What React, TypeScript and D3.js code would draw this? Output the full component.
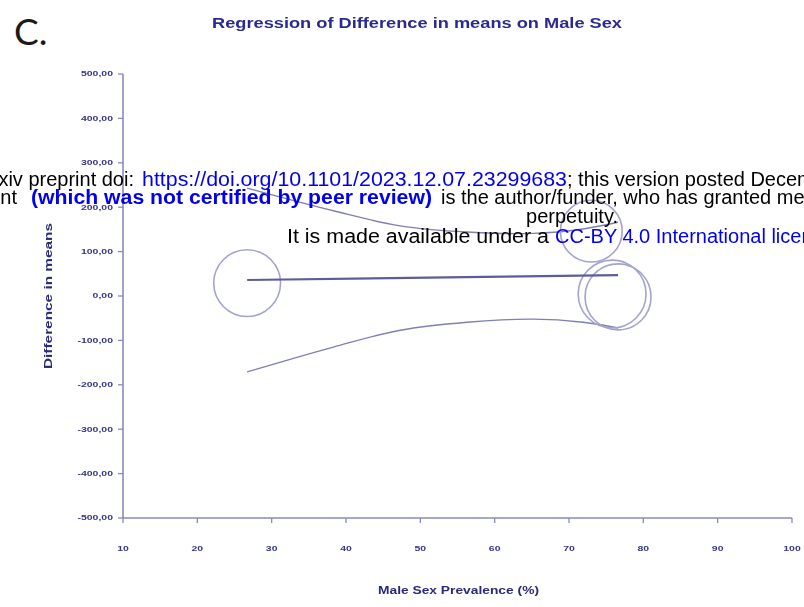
import React from 'react';
import * as d3 from 'd3';

// studies (bubbles): male sex prevalence (%), difference in means, weight (%)
const studyX = [26.7, 73.0, 75.8, 76.6];
const studyY = [29, 146, 4.5, -2];
const studyWeight = [25.6, 21.9, 26.4, 25.0];

// fitted regression line end points
const fitX = [26.7, 76.6];
const fitY = [36, 47];

// confidence band
const bandX = [26.7, 38.3, 47.3, 56.3, 65.2, 71.9, 76.6];
const bandLower = [-171, -115, -77, -59, -52, -59, -72];
const bandUpper = [243, 192, 158, 144, 141, 151, 166];

const xTicks = [10, 20, 30, 40, 50, 60, 70, 80, 90, 100];
const yTicks = [500, 400, 300, 200, 100, 0, -100, -200, -300, -400, -500];
const yTickLabels = ['500,00', '400,00', '300,00', '200,00', '100,00', '0,00', '-100,00', '-200,00', '-300,00', '-400,00', '-500,00'];

const W = 804;
const H = 607;
const margin = { top: 74, right: 12, bottom: 89, left: 123 };

const axisColor = '#8a8abb';
const labelColor = '#35358a';

export default function App() {
  const x = d3.scaleLinear().domain([10, 100]).range([margin.left, W - margin.right]);
  const y = d3.scaleLinear().domain([-500, 500]).range([H - margin.bottom, margin.top]);
  const r = d3.scaleSqrt().domain([0, 100]).range([0, 66]);

  const bandLine = d3.line<number>()
    .x((d, i) => x(bandX[i]))
    .y((d) => y(d))
    .curve(d3.curveCatmullRom);

  const fitLine = d3.line<number>()
    .x((d, i) => x(fitX[i]))
    .y((d) => y(d));

  const font = 'Arial, "Liberation Sans", sans-serif';

  return (
    <svg width={W} height={H} style={{ position: 'absolute', left: 0, top: 0, background: '#fff' }}>
      <defs>
        <filter id="soft" x="-5%" y="-5%" width="110%" height="110%">
          <feGaussianBlur stdDeviation="0.45" />
        </filter>
      </defs>

      <text x={14} y={45} fontFamily="Lato, 'Open Sans', sans-serif" fontSize={37} fill="#1a1a1a">C.</text>

      <g filter="url(#soft)" fontFamily={font}>
        {/* title */}
        <text x={212} y={28} fontSize={14.5} fontWeight="bold" fill="#2b2b8e"
          textLength={410} lengthAdjust="spacingAndGlyphs">Regression of Difference in means on Male Sex</text>

        {/* axes */}
        <line x1={x(10)} x2={x(10)} y1={y(500)} y2={y(-500)} stroke={axisColor} strokeWidth={1.6} />
        <line x1={x(10)} x2={x(100)} y1={y(-500)} y2={y(-500)} stroke={axisColor} strokeWidth={1.6} />

        {yTicks.map((t, i) => (
          <g key={'y' + t}>
            <line x1={x(10) - 5} x2={x(10)} y1={y(t)} y2={y(t)} stroke={axisColor} strokeWidth={1.3} />
            <text transform={`translate(${x(10) - 10},${y(t)}) scale(1.5,1)`} dy="0.35em" textAnchor="end"
              fontSize={7} fontWeight="bold" fill={labelColor}>{yTickLabels[i]}</text>
          </g>
        ))}

        {xTicks.map((t) => (
          <g key={'x' + t}>
            <line x1={x(t)} x2={x(t)} y1={y(-500)} y2={y(-500) + 5} stroke={axisColor} strokeWidth={1.3} />
            <text transform={`translate(${x(t)},${y(-500) + 33}) scale(1.5,1)`} textAnchor="middle"
              fontSize={7} fontWeight="bold" fill={labelColor}>{t}</text>
          </g>
        ))}

        <text x={378} y={594} fontSize={11} fontWeight="bold" fill="#2a2a7c"
          textLength={161} lengthAdjust="spacingAndGlyphs">Male Sex Prevalence (%)</text>
        <text transform={`translate(52,${y(0) + 73}) rotate(-90)`} fontSize={11} fontWeight="bold" fill="#2a2a7c"
          textLength={146} lengthAdjust="spacingAndGlyphs">Difference in means</text>

        {/* confidence band */}
        <path d={bandLine(bandUpper) || ''} fill="none" stroke="#7f7fb6" strokeWidth={1.4} />
        <path d={bandLine(bandLower) || ''} fill="none" stroke="#7f7fb6" strokeWidth={1.4} />

        {/* studies */}
        {studyX.map((sx, i) => (
          <circle key={i} cx={x(sx)} cy={y(studyY[i])} r={r(studyWeight[i])}
            fill="none" stroke="#a3a3cf" strokeWidth={1.6} />
        ))}

        {/* fitted line */}
        <path d={fitLine(fitY) || ''} fill="none" stroke="#5d5d9e" strokeWidth={2.2} />
      </g>

      {/* preprint watermark */}
      <g fontFamily={font} fontSize={20}>
        <text x={134} y={186} textAnchor="end" fill="#000">medRxiv preprint doi:</text>
        <text x={142} y={186} fill="#0000ee" textLength={425} lengthAdjust="spacingAndGlyphs">https://doi.org/10.1101/2023.12.07.23299683</text>
        <text x={567} y={186} fill="#000">; this version posted December 8, 2023. The copyright holder for this preprint</text>

        <text x={17} y={204} textAnchor="end" fill="#000">The copyright holder for this preprint</text>
        <text x={31} y={204} fill="#0000ee" fontWeight="bold" textLength={401} lengthAdjust="spacingAndGlyphs">(which was not certified by peer review)</text>
        <text x={441} y={204} fill="#000">is the author/funder, who has granted medRxiv a license to display the preprint in</text>

        <text x={572} y={223} textAnchor="middle" fill="#000">perpetuity.</text>

        <text x={287} y={243} fill="#000" textLength={262} lengthAdjust="spacingAndGlyphs">It is made available under a</text>
        <text x={555} y={243} fill="#0000ee">CC-BY 4.0 International license</text>
      </g>
    </svg>
  );
}
